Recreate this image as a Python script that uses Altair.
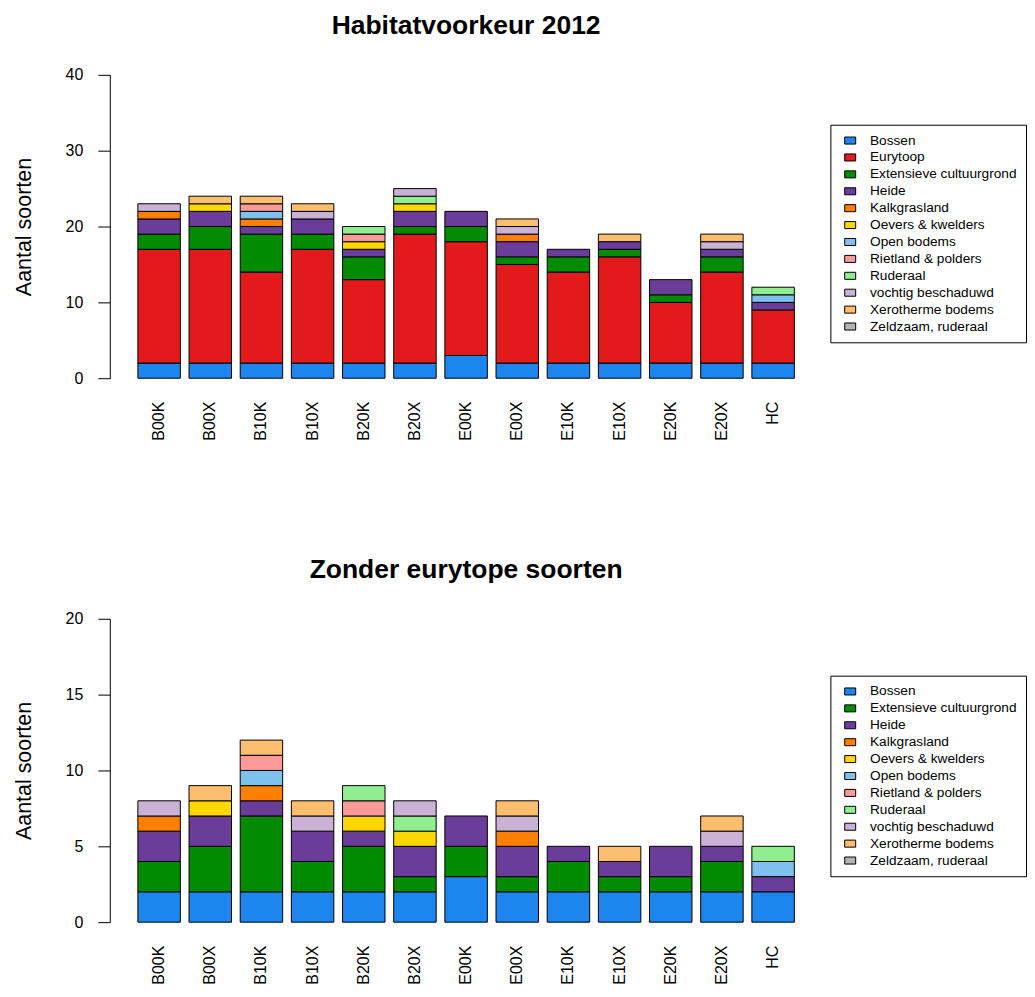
import altair as alt
import pandas as pd

sites = ["B00K", "B00X", "B10K", "B10X", "B20K", "B20X", "E00K", "E00X",
         "E10K", "E10X", "E20K", "E20X", "HC"]

categories = ["Bossen", "Eurytoop", "Extensieve cultuurgrond", "Heide",
              "Kalkgrasland", "Oevers & kwelders", "Open bodems",
              "Rietland & polders", "Ruderaal", "vochtig beschaduwd",
              "Xerotherme bodems", "Zeldzaam, ruderaal"]
colors = ["#1C86EE", "#E31A1C", "#008B00", "#6A3D9A", "#FF7F00", "#FFD700",
          "#7EC0EE", "#FB9A99", "#90EE90", "#CAB2D6", "#FDBF6F", "#B3B3B3"]

bossen    = [2, 2, 2, 2, 2, 2, 3, 2, 2, 2, 2, 2, 2]
eurytoop  = [15, 15, 12, 15, 11, 17, 15, 13, 12, 14, 8, 12, 7]
extensief = [2, 3, 5, 2, 3, 1, 2, 1, 2, 1, 1, 2, 0]
heide     = [2, 2, 1, 2, 1, 2, 2, 2, 1, 1, 2, 1, 1]
kalk      = [1, 0, 1, 0, 0, 0, 0, 1, 0, 0, 0, 0, 0]
oevers    = [0, 1, 0, 0, 1, 1, 0, 0, 0, 0, 0, 0, 0]
open_bod  = [0, 0, 1, 0, 0, 0, 0, 0, 0, 0, 0, 0, 1]
rietland  = [0, 0, 1, 0, 1, 0, 0, 0, 0, 0, 0, 0, 0]
ruderaal  = [0, 0, 0, 0, 1, 1, 0, 0, 0, 0, 0, 0, 1]
vochtig   = [1, 0, 0, 1, 0, 1, 0, 1, 0, 0, 0, 1, 0]
xero      = [0, 1, 1, 1, 0, 0, 0, 1, 0, 1, 0, 1, 0]
zeldzaam  = [0, 0, 0, 0, 0, 0, 0, 0, 0, 0, 0, 0, 0]

series = [bossen, eurytoop, extensief, heide, kalk, oevers, open_bod,
          rietland, ruderaal, vochtig, xero, zeldzaam]


def build_df(cats):
    rows = []
    for ci, (cat, vals) in enumerate(zip(categories, series)):
        if cat not in cats:
            continue
        for s, v in zip(sites, vals):
            if v > 0:
                rows.append({"site": s, "category": cat, "value": v, "idx": ci})
    return pd.DataFrame(rows)


def make_chart(cats, title, ymax, yticks, legend_y):
    cols = [colors[categories.index(c)] for c in cats]
    df = build_df(cats)
    return alt.Chart(df).mark_bar(stroke="black", strokeWidth=1).encode(
        x=alt.X("site:N", sort=sites,
                scale=alt.Scale(paddingInner=0.17, paddingOuter=0.1),
                axis=alt.Axis(title=None, labelAngle=270, domain=False,
                              ticks=False, labelPadding=23, labelFontSize=16,
                              labelColor="black")),
        y=alt.Y("value:Q", stack="zero",
                scale=alt.Scale(domain=[0, ymax], nice=False),
                axis=alt.Axis(values=yticks, title="Aantal soorten",
                              offset=23, grid=False, tickSize=12,
                              labelFontSize=16, titleFontSize=21.5,
                              titleFontWeight="normal", labelPadding=15,
                              titlePadding=30, domainColor="black",
                              tickColor="black", labelColor="black",
                              titleColor="black")),
        color=alt.Color("category:N",
                        scale=alt.Scale(domain=cats, range=cols),
                        legend=alt.Legend(title=None, orient="none",
                                          legendX=699, legendY=legend_y,
                                          strokeColor="black", padding=9,
                                          symbolType="M-1,-0.64H1V0.64H-1Z",
                                          symbolOffset=4,
                                          symbolStrokeColor="black",
                                          symbolStrokeWidth=1, symbolSize=121,
                                          labelFontSize=13.7, rowPadding=1.94,
                                          labelOffset=13,
                                          labelColor="black")),
        order=alt.Order("idx:Q", sort="ascending"),
    ).properties(
        width=668, height=304,
        title=alt.TitleParams(title, fontSize=26.5, fontWeight="bold",
                              anchor="middle", frame="group", offset=27,
                              color="black"),
    )


top = make_chart(categories, "Habitatvoorkeur 2012", 40, [0, 10, 20, 30, 40], 50)
bottom_cats = [c for c in categories if c != "Eurytoop"]
bottom = make_chart(bottom_cats, "Zonder eurytope soorten", 20, [0, 5, 10, 15, 20], 57)

chart = alt.vconcat(top, bottom, spacing=116).resolve_scale(
    color="independent", y="independent", x="independent"
).resolve_legend(color="independent").properties(
    padding={"left": 5, "top": 4, "right": 0, "bottom": 0}
).configure(
    font="Liberation Sans"
).configure_view(stroke=None)

chart.save("out.html", embed_options={"renderer": "svg", "actions": False})
